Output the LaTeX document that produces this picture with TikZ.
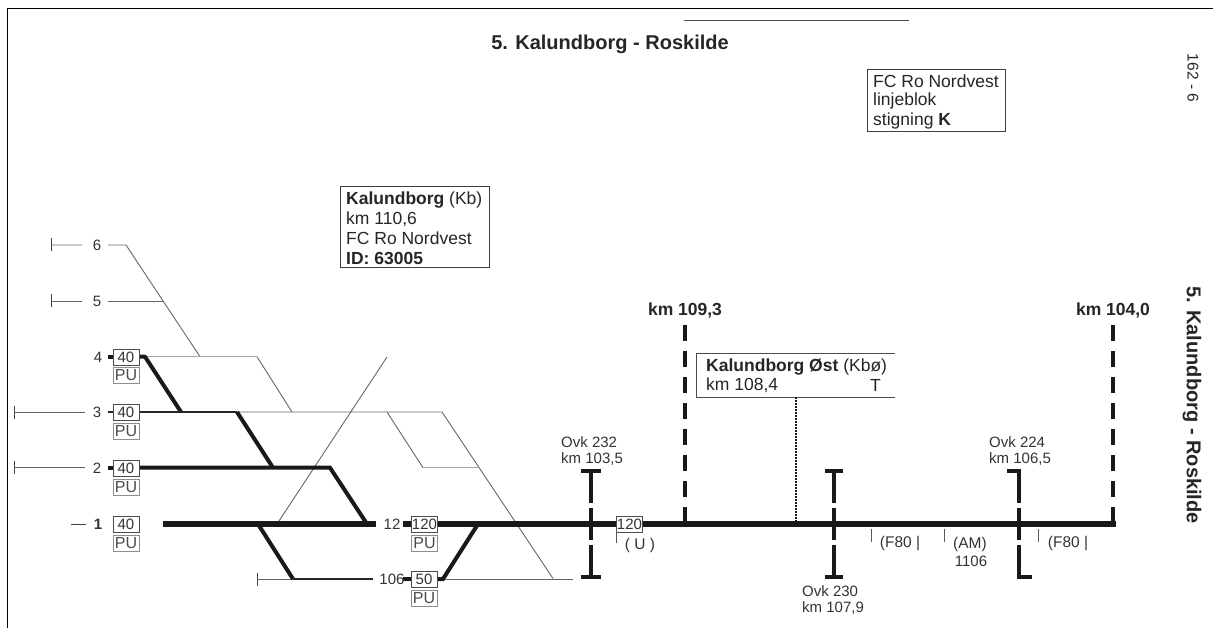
\documentclass[tikz,border=0pt]{standalone}
\usepackage{fontspec}
\setmainfont{Liberation Sans}
\tikzset{
  x=1pt,y=-1pt,
  thintrack/.style={draw=black!60,line width=0.9pt},
  lighttrack/.style={draw=black!35,line width=0.9pt},
  midtrack/.style={draw=black!85,line width=2pt},
  heavytrack/.style={draw=black!90,line width=4pt},
  maintrack/.style={draw=black!90,line width=5.5pt},
  tickline/.style={draw=black!75,line width=1pt},
  ovk/.style={draw=black!90,line width=4.2pt,dash pattern=on 32pt off 5pt on 32pt off 5pt},
  ovkbar/.style={draw=black!90,line width=3.6pt},
  kmline/.style={draw=black!90,line width=3.6pt,dash pattern=on 16pt off 10pt},
  speed/.style={draw=black!70,fill=white,line width=0.8pt,minimum width=26pt,minimum height=16pt,inner sep=0pt,font=\fontsize{15}{16}\selectfont,text=black!80},
  pubox/.style={draw=black!45,line width=0.9pt,minimum width=26pt,minimum height=16pt,inner sep=0pt,font=\fontsize{16}{16}\selectfont,text=black!70},
  txt/.style={inner sep=0pt,yshift=-1pt,font=\fontsize{15.5}{17}\selectfont,text=black!80},
  small/.style={txt,align=left,font=\fontsize{15}{17}\selectfont},
  tracknum/.style={inner sep=0pt,font=\fontsize{15}{16}\selectfont,text=black!80},
  kmlab/.style={inner sep=0pt,yshift=-1.5pt,font=\fontsize{17.5}{19}\selectfont\bfseries,text=black!85},
  infobox/.style={draw=black!75,line width=0.9pt,fill=white,inner sep=0pt},
  boxtxt/.style={inner sep=0pt,anchor=west,yshift=-1.5pt,font=\fontsize{17.5}{19}\selectfont,text=black!85},
}
\begin{document}
\begin{tikzpicture}
\useasboundingbox (0,0) rectangle (1213,628);
% frame
\coordinate (fTL) at (7,9); \coordinate (fTR) at (1213,9); \coordinate (fBL) at (7,628);
\draw[black,line width=1pt] (fBL) -- (fTL) -- (fTR);
\coordinate (rA) at (684,21); \coordinate (rB) at (909,21);
\draw[black!70,line width=1pt] (rA) -- (rB);
% junctions
\foreach \n/\X/\Y in {e6/51/245,a6/82/245,b6/108/245,c6/126/245,d6/200/356.7,
 e5/51/301,a5/82/301,b5/108/301,c5/163/301,
 s4/108/356.7,j4a/145/356.7,j4b/181/412,j4c/257/356.7,j4d/292/412,
 e3/14/412,a3/85/412,s3/108/412,j3a/237/412,j3b/273/467.7,j3c/442/412,j3d/553/578.5,j3e/387/412,j3f/423/467.7,j3g/479/467.7,
 e2/14/467.7,a2/85/467.7,s2/108/467.7,j2a/330/467.7,j2b/367/524,
 e1/71/524,a1/86/524,m0/163/524,m1/376/524,s12/403/524,mE/1116/524,
 x1/277/524,x2/387/357,j6a/258/524,j6b/293/579,e6b/257/579,m6/373/579,s6/403/579,j6c/443/579,j6d/478/524,e6c/573/579}{\coordinate (\n) at (\X,\Y);}
% ticks at track ends
\foreach \c in {e6,e5,e3,e2,e6b}{\draw[tickline] ([yshift=6.5pt]\c) -- ([yshift=-6.5pt]\c);}
% thin tracks
\draw[thintrack] (e6) -- (a6) (b6) -- (c6) -- (d6);
\draw[thintrack] (e5) -- (a5) (b5) -- (c5);
\draw[thintrack] (e3) -- (a3) (e2) -- (a2);
\draw[tickline] (e1) -- (a1);
\draw[lighttrack] (j4a) -- (j4c);
\draw[thintrack] (j4c) -- (j4d);
\draw[thintrack] (j3a) -- (j3c) -- (j3d);
\draw[thintrack] (j3e) -- (j3f);
\draw[lighttrack] (j3f) -- (j3g);
\draw[thintrack] (x1) -- (x2);
\draw[thintrack] (e6b) -- (j6b) (j6c) -- (e6c);
% heavy tracks
\draw[heavytrack] (s4) -- ++(5,0);
\draw[heavytrack,line join=round] (j4a) ++(-6,0) -- (j4a) -- (j4b);
\draw[midtrack] (s3) -- ++(5,0) (s3) ++(31,0) -- (j3a);
\draw[heavytrack] (j3a) -- (j3b);
\draw[heavytrack] (s2) -- ++(5,0);
\draw[heavytrack,line join=miter] (139,467.7) -- (j2a) -- (j2b);
\draw[maintrack] (m0) -- (m1);
\draw[maintrack] (s12) ++(0,0) -- ++(8,0);
\draw[maintrack] (438,524) -- (mE);
\draw[heavytrack] (j6a) -- (j6b);
\draw[midtrack] (j6b) -- (m6);
\draw[heavytrack] (s6) -- ++(8,0);
\draw[heavytrack] (437,579) -- (j6c) -- (j6d);
% speed boxes
\node[speed] (v4) at (126,357) {40};
\node[pubox] (p4) at (126,375) {PU};
\node[speed] (v3) at (126,412) {40};
\node[pubox] (p3) at (126,431) {PU};
\node[speed] (v2) at (126,468) {40};
\node[pubox] (p2) at (126,487) {PU};
\node[speed] (v1) at (126,524) {40};
\node[pubox] (p1) at (126,543) {PU};
\node[speed] (v12) at (424.5,524) {120};
\node[pubox] (p12) at (424.5,543) {PU};
\node[speed] (v106) at (424,579) {50};
\node[pubox] (p106) at (424,598) {PU};
\node[speed] (v120b) at (629.5,524) {120};
% track numbers
\node[tracknum] (n6) at (97,245) {6};
\node[tracknum] (n5) at (97,301) {5};
\node[tracknum] (n4) at (98,357) {4};
\node[tracknum] (n3) at (97,412) {3};
\node[tracknum] (n2) at (97,468) {2};
\node[tracknum,font=\fontsize{15}{16}\selectfont\bfseries] (n1) at (98,524) {1};
\node[tracknum] (n12) at (392,524) {12};
\node[tracknum] (n106) at (392,579) {106};
% km posts
\coordinate (k1t) at (685,325); \coordinate (k1b) at (685,524);
\coordinate (k2t) at (1113,325); \coordinate (k2b) at (1113,524);
\draw[kmline] (k1t) -- (k1b);
\draw[kmline] (k2t) -- (k2b);
\node[kmlab] (k1) at (685,309) {km 109,3};
\node[kmlab] (k2) at (1113,309) {km 104,0};
% Kalundborg Ost
\coordinate (ka) at (895,353); \coordinate (kb) at (696,353); \coordinate (kc) at (696,397); \coordinate (kd) at (895,397);
\fill[white] (kb) rectangle (kd);
\draw[black!70,line width=0.9pt] (ka) -- (kb) -- (kc) -- (kd);
\node[boxtxt] (kost) at (706,366) {\textbf{Kalundborg Øst} (Kbø)};
\node[boxtxt] (kkm) at (706,384) {km 108,4};
\node[boxtxt] (kT) at (870,384) {T};
\coordinate (dt) at (796,397); \coordinate (db) at (796,524);
\draw[black!90,line width=2pt,dash pattern=on 2pt off 1pt] (dt) -- (db);
% overpasses
\foreach \n/\X in {o1/591,o2/834,o3/1018.7}{
  \coordinate (\n t) at (\X,471); \coordinate (\n b) at (\X,577);
  \draw[ovk] (\n t) -- (\n b);}
\draw[ovkbar] (581,471) -- (601,471) (581,577) -- (601,577);
\draw[ovkbar] (825,471) -- (843,471) (825,577) -- (843,577);
\draw[ovkbar] (1007,471) -- (1020.5,471) (1017,577) -- (1032,577);
\node[small,anchor=west] (ot1) at (561,441) {Ovk 232};
\node[small,anchor=west] (ok1) at (561,458) {km 103,5};
\node[small,anchor=west] (ot2) at (802,590) {Ovk 230};
\node[small,anchor=west] (ok2) at (802,607) {km 107,9};
\node[small,anchor=west] (ot3) at (989,441) {Ovk 224};
\node[small,anchor=west] (ok3) at (989,458) {km 106,5};
% lower annotations
\foreach \n/\X/\Ye in {t1/616/543,t2/871/542,t3/944/542,t4/1038/542}{
  \coordinate (\n a) at (\X,529); \coordinate (\n b) at (\X,\Ye);
  \draw[black!65,line width=0.8pt] (\n a) -- (\n b);}
\node[txt] (u) at (640,544) {( U )};
\node[txt] (f1) at (900,543) {(F80 |};
\node[txt] (am) at (970,543) {(AM)};
\node[txt,font=\fontsize{15}{17}\selectfont] (am2) at (971,560) {1106};
\node[txt] (f2) at (1068,543) {(F80 |};
% titles
\node[inner sep=0pt,yshift=-1.5pt,font=\fontsize{20}{22}\selectfont\bfseries,text=black!85] (title) at (610,43) {5. Kalundborg - Roskilde};
\node[inner sep=0pt,rotate=-90,font=\fontsize{20}{22}\selectfont\bfseries,text=black!85] (side) at (1192,405) {5. Kalundborg - Roskilde};
\node[inner sep=0pt,rotate=-90,font=\fontsize{15.5}{16}\selectfont,text=black!85] (pg) at (1193,78) {162 - 6};
% info boxes
\node[infobox,minimum width=137.5pt,minimum height=62pt,anchor=north west] (fcbox) at (867,69) {};
\node[boxtxt] (fc1) at (873,80) {FC Ro Nordvest};
\node[boxtxt] (fc2) at (873,99) {linjeblok};
\node[boxtxt] (fc3) at (873,119) {stigning \textbf{K}};
\node[infobox,minimum width=149pt,minimum height=81pt,anchor=north west] (kbbox) at (340,186) {};
\node[boxtxt] (kb1) at (346,199) {\textbf{Kalundborg} (Kb)};
\node[boxtxt] (kb2) at (346,218) {km 110,6};
\node[boxtxt] (kb3) at (346,237) {FC Ro Nordvest};
\node[boxtxt] (kb4) at (346,257) {\textbf{ID: 63005}};
\end{tikzpicture}
\end{document}
